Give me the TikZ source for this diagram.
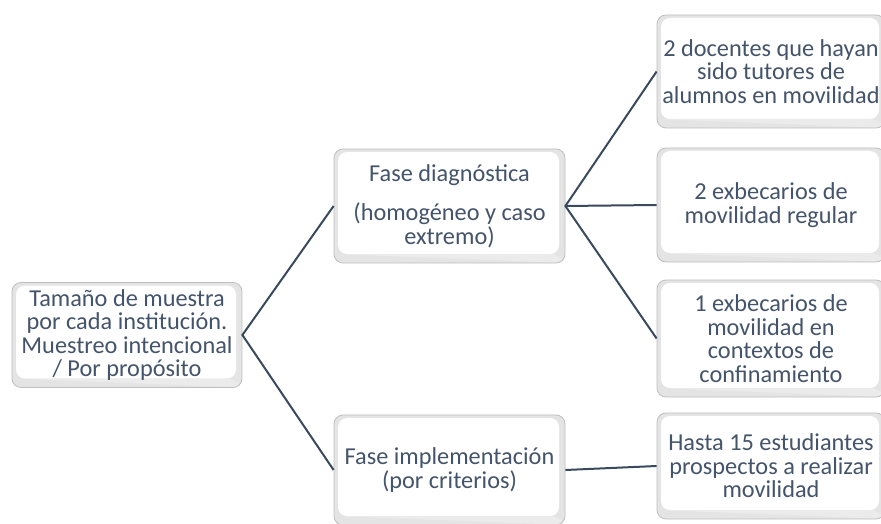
\documentclass[tikz,border=0pt]{standalone}
\usepackage{fontspec}
\setmainfont{Carlito}
\definecolor{txt}{HTML}{44546A}
\definecolor{ln}{HTML}{3A4A5E}
\definecolor{edge}{HTML}{BFBFBF}
\definecolor{bev}{HTML}{E4E4E4}
\begin{document}
\begin{tikzpicture}[x=1pt,y=-1pt,
  bx/.style={rectangle, rounded corners=9pt, draw=edge, line width=0.8pt, fill=white,
    align=center, text=txt, inner sep=2pt,
    font=\fontsize{24.3}{23.5}\selectfont,
    path picture={
      \fill[bev] (path picture bounding box.south west) rectangle (path picture bounding box.north east);
      \fill[white] ([shift={(4pt,-3pt)}]path picture bounding box.north west) rectangle ([shift={(-6pt,9pt)}]path picture bounding box.south east);
      \fill[white!92!black] ([shift={(0pt,9pt)}]path picture bounding box.south west) -- ([shift={(4pt,9pt)}]path picture bounding box.south west) -- ([shift={(-6pt,9pt)}]path picture bounding box.south east) -- ([shift={(0pt,0pt)}]path picture bounding box.south east) -- cycle;
    }},
  cn/.style={draw=ln, line width=2pt}]
\useasboundingbox (0,0) rectangle (881,524);
\clip (0,0) rectangle (881,524);
\node[bx, minimum width=230pt, minimum height=105pt] (root) at (127,335) {Tamaño de muestra\\por cada institución.\\Muestreo intencional\\/ Por propósito};
\node[bx, minimum width=231pt, minimum height=114pt] (diag) at (449.5,206) {Fase diagnóstica\\[16pt](homogéneo y caso\\extremo)};
\node[bx, minimum width=231pt, minimum height=110pt] (impl) at (449.5,470) {Fase implementación\\(por criterios)};
\node[bx, minimum width=228pt, minimum height=113pt] (r1) at (771,71.5) {2 docentes que hayan\\sido tutores de\\alumnos en movilidad};
\node[bx, minimum width=228pt, minimum height=114pt] (r2) at (771,205) {2 exbecarios de\\movilidad regular};
\node[bx, minimum width=228pt, minimum height=117pt] (r3) at (771,338.5) {1 exbecarios de\\movilidad en\\contextos de\\confinamiento};
\node[bx, minimum width=228pt, minimum height=106pt] (r4) at (771,466) {Hasta 15 estudiantes\\prospectos a realizar\\movilidad};
\draw[cn] (diag.west) -- (root.east) -- (impl.west);
\draw[cn] (r1.west) -- (diag.east) -- (r3.west);
\draw[cn] (diag.east) -- (r2.west);
\draw[cn] (impl.east) -- (r4.west);
\end{tikzpicture}
\end{document}
